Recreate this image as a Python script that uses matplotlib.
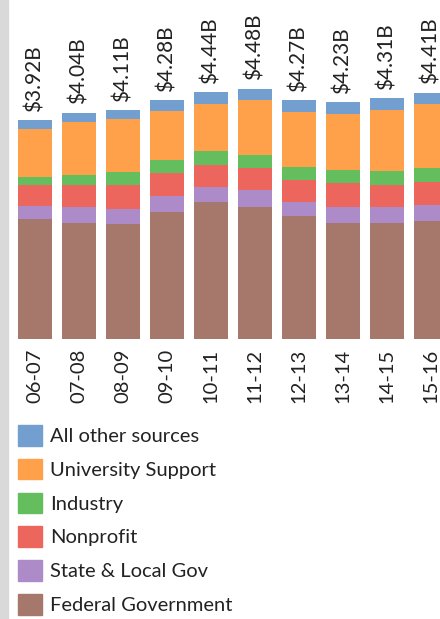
import matplotlib
matplotlib.use("Agg")
import matplotlib.pyplot as plt
from matplotlib.patches import Patch, Rectangle

plt.rcParams['font.family'] = ['Lato', 'DejaVu Sans']

# fiscal years and funding sources ($ billions)
years = ['06-07', '07-08', '08-09', '09-10', '10-11', '11-12', '12-13', '13-14', '14-15', '15-16']
federal = [2.14, 2.07, 2.05, 2.27, 2.45, 2.36, 2.20, 2.07, 2.07, 2.11]
state_local = [0.23, 0.29, 0.27, 0.29, 0.27, 0.30, 0.25, 0.29, 0.29, 0.29]
nonprofit = [0.38, 0.39, 0.43, 0.41, 0.39, 0.39, 0.39, 0.43, 0.39, 0.41]
industry = [0.14, 0.18, 0.23, 0.23, 0.25, 0.23, 0.23, 0.23, 0.25, 0.25]
university = [0.86, 0.95, 0.95, 0.87, 0.84, 0.98, 0.98, 1.00, 1.09, 1.14]
other = [0.16, 0.16, 0.16, 0.20, 0.21, 0.21, 0.21, 0.21, 0.21, 0.20]
totals = ['$3.92B', '$4.04B', '$4.11B', '$4.28B', '$4.44B', '$4.48B', '$4.27B', '$4.23B', '$4.31B', '$4.41B']

series = [
    ('Federal Government', federal, '#a6786c'),
    ('State & Local Gov', state_local, '#ad8bc8'),
    ('Nonprofit', nonprofit, '#ec665e'),
    ('Industry', industry, '#65be5d'),
    ('University Support', university, '#ffa04a'),
    ('All other sources', other, '#729fcf'),
]

W, H = 440, 619
fig = plt.figure(figsize=(W / 100, H / 100), dpi=100)

# grey strip on the left edge
fig.patches.append(Rectangle((0, 0), 8 / W, 1, transform=fig.transFigure,
                             color='#d9d9d9', zorder=0))

base = 339
ax = fig.add_axes([0, (H - base) / H, 1, base / H])
x = list(range(len(years)))
bottom = [0] * len(years)
for name, vals, col in series:
    ax.bar(x, vals, width=0.773, bottom=bottom, color=col, label=name)
    bottom = [b + v for b, v in zip(bottom, vals)]

for i, lab in enumerate(totals):
    ax.annotate(lab, (i, bottom[i]), xytext=(0, 6), textcoords='offset points',
                rotation=90, ha='center', va='bottom', fontsize=15, color='#222222')

ax.set_xlim(-35 / 44, (W - 35) / 44)
ax.set_ylim(0, base / 56)
ax.set_xticks(x)
ax.set_xticklabels(years, rotation=90, fontsize=14.5, color='#222222')
ax.tick_params(axis='x', length=0, pad=7)
ax.set_yticks([])
for s in ax.spines.values():
    s.set_visible(False)
ax.patch.set_alpha(0)

handles = [Patch(color=c, label=n) for n, v, c in reversed(series)]
fig.legend(handles=handles, loc='upper left', bbox_to_anchor=(18 / W, 1 - 425 / H),
           frameon=False, fontsize=14.5, handlelength=1.19, handleheight=1.19,
           labelspacing=0.66, handletextpad=0.4, borderpad=0, borderaxespad=0,
           labelcolor='#222222')

fig.savefig('out.png', dpi=100)
